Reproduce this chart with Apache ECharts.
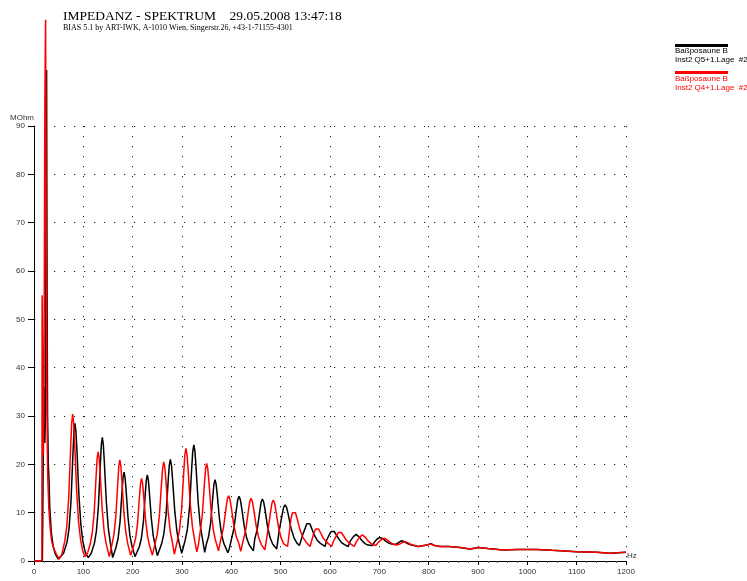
<!DOCTYPE html>
<html>
<head>
<meta charset="utf-8">
<script src="https://cdn.jsdelivr.net/npm/echarts@6/dist/echarts.min.js"></script>
<style>
html,body{margin:0;padding:0;background:#fff;}
#chart{width:747px;height:581px;}
</style>
</head>
<body>
<div id="chart"></div>
<script>
var titleText = 'IMPEDANZ - SPEKTRUM    29.05.2008 13:47:18';
var subText = 'BIAS 5.1 by ART-IWK, A-1010 Wien, Singerstr.26, +43-1-71155-4301';
var seriesNames = ['Baßposaune B|Inst2 Q5+1.Lage  #2', 'Baßposaune B|Inst2 Q4+1.Lage  #2'];
var xTicks = [0,100,200,300,400,500,600,700,800,900,1000,1100,1200];
var yTicks = [0,10,20,30,40,50,60,70,80,90];

// Black curve: [Hz, MOhm]
var blackData = [
[0,0],[17,0],[18,12],[19,28],[20,33],[21,36],[22,24.4],[23,30],[24,60],[25.5,101.6],[26.5,55],[27.5,30],[29,20],[30.4,16.8],[32,11],[35,6],[39,3],[42.6,1.6],[45,1.8],[49,0.4],[53,0.6],[60,1.6],
[67,3.9],[71,6.7],[75,12.3],[79,22.3],[81,26.8],[83,28.5],[85,26.8],[87,22.9],[91,13.7],[95,7.5],[99,4.1],[104,1.8],[110,0.7],
[116,1.6],[122.5,3.7],[126.5,6.2],[130.5,11.2],[134.5,20.1],[136.5,24.1],[138.5,25.6],[140.5,24.1],[142.5,20.6],[146.5,12.4],[150.5,6.9],[154.5,3.9],[159.5,0.7],
[166.5,2.9],[170.5,4.7],[174.5,8.2],[178.5,14.5],[180.5,17.3],[182.5,18.4],[184.5,17.3],[186.5,14.9],[190.5,9.1],[194.5,5.2],[198.5,3.1],[204.7,0.9],
[213.7,3],[217.7,4.7],[221.7,8.1],[225.7,14.1],[227.7,16.8],[229.7,17.8],[231.7,16.8],[233.7,14.4],[237.7,8.9],[241.7,5.2],[245.7,3.2],[250,1.1],
[258.8,3.6],[263.2,5.6],[267.6,9.5],[272,16.6],[274.2,19.8],[276.4,21],[278.6,19.8],[280.8,17],[285.2,10.5],[289.6,6.2],[294,3.8],[299.4,1.6],
[306.4,4.3],[310.8,6.5],[315.2,11],[319.6,19.1],[321.8,22.7],[324,24],[326.2,22.7],[328.4,19.5],[332.8,12.1],[337.2,7.2],[341.6,4.5],[346,1.8],
[349.4,3.5],[353.8,5],[358.2,8],[362.6,13.5],[364.8,15.9],[367,16.8],[369.2,15.9],[371.4,13.8],[375.8,8.8],[380.2,5.5],[384.6,3.7],[393,1.7],
[396,2.6],[400,4.4],[405.2,6.7],[410.4,10.8],[413,12.7],[415.6,13.4],[418.2,12.7],[420.8,11.1],[426,7.3],[431.2,4.7],[436.4,3.3],[444.6,2.1],
[447.4,4.5],[452.6,6.6],[457.8,10.4],[460.4,12.2],[463,12.8],[465.6,12.2],[468.2,10.7],[473.4,7.1],[478.6,4.8],[483.8,3.5],[492,2.5],
[497,6.3],[503,9.6],[506,11.1],[509,11.6],[512,11.1],[515,9.8],[521,6.8],[527,4.8],[533,3.7],[538,3.2],
[544,5.2],[550,6.9],[553,7.7],[556,8],[559,7.7],[562,7],[568,5.4],[574,4.3],[580,3.7],[590,3],
[593.5,4.4],[599.5,5.6],[602.5,6.1],[605.5,6.3],[608.5,6.1],[611.5,5.6],[617.5,4.6],[623.5,3.8],[629.5,3.4],[637,3],
[641,4.1],[647,5],[650,5.4],[653,5.5],[656,5.4],[659,5],[665,4.2],[671,3.6],[677,3.3],[686.6,3.2],
[689,3.8],[695,4.5],[701,4.9],[707,4.6],[713,4.1],[719,3.7],[725,3.5],[732,3.4],
[739,3.8],[745,4.2],[751,4],[757,3.6],[765,3.3],[779,3],
[796,3.3],[805,3.6],[812,3.2],[823,3],[840,3],[863.6,2.8],[884,2.5],[900.7,2.8],[920,2.6],[951,2.3],[980,2.4],[1019,2.4],[1050,2.2],[1100,1.9],[1140,1.8],[1168,1.6],[1200,1.8]
];

// Red curve: [Hz, MOhm]
var redData = [
[0,0],[16,0],[16.5,55],[18,35],[19,22],[20,30],[21,60],[22,95],[23.5,112],[25,60],[26,35],[27,24],[28,17],[30,11],[33,6.5],[36,4],[40,2.6],[45,1.5],[51,0.4],[56,1.2],
[62.4,4.1],[66.4,7.1],[70.4,13.1],[74.4,23.8],[76.4,28.6],[78.4,30.4],[80.4,28.6],[82.4,24.4],[86.4,14.6],[90.4,8],[94.4,4.4],[99,2],[103.4,0.9],
[109,1.8],[114,3.5],[118,5.7],[122,10],[126,17.8],[128,21.3],[130,22.6],[132,21.3],[134,18.3],[138,11.1],[142,6.3],[146,3.7],[152.7,0.9],
[158,3.4],[162,5.4],[166,9.4],[170,16.5],[172,19.7],[174,20.9],[176,19.7],[178,16.9],[182,10.4],[186,6],[190,3.6],[196,1.2],
[202,3.1],[206,4.7],[210,7.9],[214,13.6],[216,16.1],[218,17.1],[220,16.1],[222,13.9],[226,8.7],[230,5.2],[234,3.3],[240,1.2],
[245.4,3.6],[249.8,5.5],[254.2,9.4],[258.6,16.3],[260.8,19.3],[263,20.5],[265.2,19.3],[267.4,16.7],[271.8,10.3],[276.2,6.1],[280.6,3.8],[284.5,1.4],
[290.4,4.1],[294.8,6.3],[299.2,10.7],[303.6,18.5],[305.8,22],[308,23.3],[310.2,22],[312.4,18.9],[316.8,11.7],[321.2,7],[325.6,4.3],[330,1.9],
[333,3.2],[336.8,6],[341.2,9.6],[345.6,16.2],[347.8,19.1],[350,20.2],[352.2,19.1],[354.4,16.6],[358.8,10.6],[363.2,6.6],[367.6,4.4],[374,2.1],
[378.9,4.6],[384.1,6.9],[389.3,11],[391.9,12.8],[394.5,13.5],[397.1,12.8],[399.7,11.2],[404.9,7.5],[410.1,5],[415.3,3.6],[419,2],
[424.4,4.4],[429.6,6.6],[434.8,10.6],[437.4,12.3],[440,13],[442.6,12.3],[445.2,10.8],[450.4,7.2],[455.6,4.8],[460.8,3.4],[468,2.3],
[474.6,6.6],[479.8,10.3],[482.4,12],[485,12.6],[487.6,12],[490.2,10.5],[495.4,7.1],[500.6,4.9],[505.8,3.6],[514,3],
[521,8.8],[524,10],[527,10.4],[530,10],[533,8.9],[539,6.5],[545,4.9],[551,4],[559.5,3],
[568,6],[571,6.6],[574,6.8],[577,6.6],[580,6],[586,4.8],[592,4],[598,3.5],[603,3],
[608,4.3],[614,5.4],[617,5.9],[620,6.1],[623,5.9],[626,5.5],[632,4.5],[638,3.8],[644,3.4],[649,3],
[653.6,4],[659.6,4.9],[662.6,5.3],[665.6,5.4],[668.6,5.3],[671.6,4.9],[677.6,4.1],[683.6,3.6],[693,3.2],
[697.5,3.8],[703.5,4.4],[709.5,4.7],[715.5,4.4],[721.5,3.9],[727.5,3.5],[735,3.3],
[741,3.5],[746,3.8],[752,4],[758,3.8],[764,3.4],[779,3],
[796,3.3],[803,3.5],[812,3.2],[823,3],[840,3],[863.6,2.8],[884,2.5],[900.7,2.8],[920,2.6],[951,2.3],[980,2.4],[1019,2.4],[1050,2.2],[1100,1.9],[1140,1.8],[1168,1.6],[1200,1.8]
];

var chart = echarts.init(document.getElementById('chart'), null, {renderer:'canvas'});
var sans = 'Liberation Sans, Arial, sans-serif';
var serif = 'Liberation Serif, Times New Roman, serif';
var dots = {color:'#222', width:1, type:[1.2,8.8]};
var n0 = seriesNames[0].split('|'), n1 = seriesNames[1].split('|');

chart.setOption({
  animation:false,
  backgroundColor:'#fff',
  title:{
    text:titleText, subtext:subText, left:58, top:4, itemGap:1,
    textStyle:{fontFamily:serif, fontSize:13.5, fontWeight:'normal', color:'#000'},
    subtextStyle:{fontFamily:serif, fontSize:8, color:'#000'}
  },
  grid:{left:34, right:121, top:126, bottom:20, containLabel:false},
  xAxis:{
    type:'value', min:xTicks[0], max:xTicks[xTicks.length-1], interval:100,
    axisLine:{show:true, lineStyle:{color:'#000', width:1}},
    axisTick:{show:true, length:4, lineStyle:{color:'#000'}},
    minorTick:{show:true, splitNumber:5, length:2, lineStyle:{color:'#555'}},
    axisLabel:{fontFamily:sans, fontSize:8, color:'#333', margin:7, formatter:function(v){return String(v);}},
    splitLine:{show:true, lineStyle:dots}
  },
  yAxis:{
    type:'value', min:yTicks[0], max:yTicks[yTicks.length-1], interval:10,
    axisLine:{show:true, lineStyle:{color:'#000', width:1}},
    axisTick:{show:true, length:6, lineStyle:{color:'#000'}},
    axisLabel:{fontFamily:sans, fontSize:8, color:'#333', margin:9, formatter:function(v){return String(v);}},
    splitLine:{show:true, lineStyle:dots}
  },
  graphic:[
    {type:'text', left:10, top:114, style:{text:'MOhm', font:'8px '+sans, fill:'#333'}},
    {type:'text', left:627, top:552, style:{text:'Hz', font:'8px '+sans, fill:'#333'}},
    {type:'rect', shape:{x:675, y:44, width:53, height:3}, style:{fill:'#000'}},
    {type:'text', left:675, top:47, style:{text:n0[0], font:'8px '+sans, fill:'#000'}},
    {type:'text', left:675, top:56, style:{text:n0[1], font:'8px '+sans, fill:'#000'}},
    {type:'rect', shape:{x:675, y:71, width:53, height:3}, style:{fill:'#ff0000'}},
    {type:'text', left:675, top:75, style:{text:n1[0], font:'8px '+sans, fill:'#ff0000'}},
    {type:'text', left:675, top:84, style:{text:n1[1], font:'8px '+sans, fill:'#ff0000'}}
  ],
  series:[
    {type:'line', name:'black', data:blackData, showSymbol:false, symbol:'none', clip:false,
     lineStyle:{color:'#000', width:1.5}, z:3},
    {type:'line', name:'red', data:redData, showSymbol:false, symbol:'none', clip:false,
     lineStyle:{color:'#ff0000', width:1.5}, z:4}
  ]
});
</script>
</body>
</html>
